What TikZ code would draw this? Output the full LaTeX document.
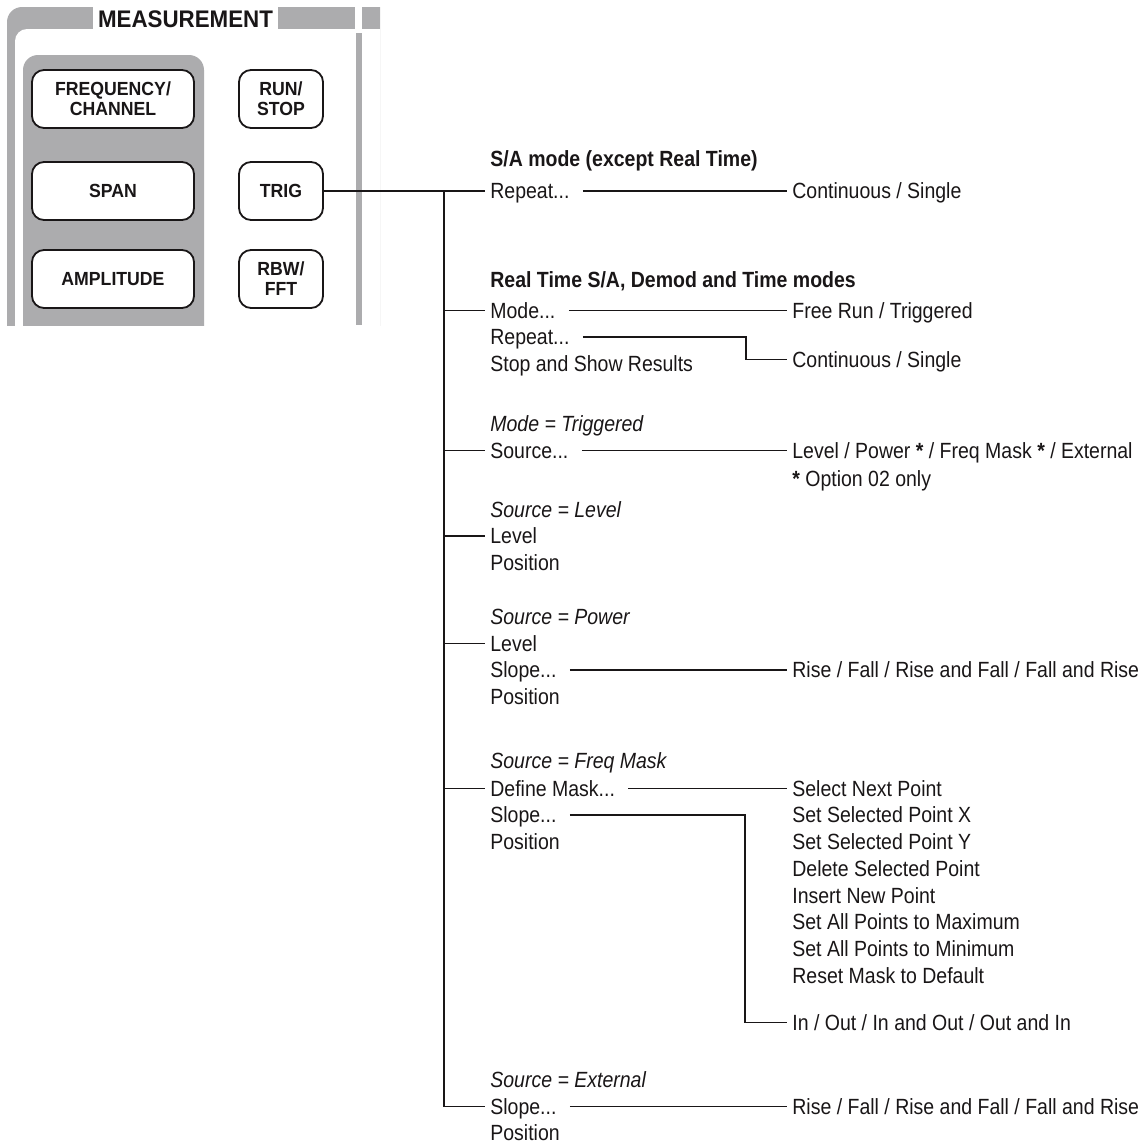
\documentclass[tikz,border=0pt]{standalone}
\usepackage{fontspec}
\setmainfont{Liberation Sans}[FakeStretch=0.886]
\newfontfamily\keyfont{Liberation Sans}[FakeStretch=0.93]
\usepackage{xcolor}
\usepackage{tikz}
\definecolor{keyG}{RGB}{172,172,174}
\definecolor{inkK}{RGB}{25,22,23}
\tikzset{
  keybtn/.style={draw=inkK, line width=0.9pt, fill=white, rounded corners=6pt, align=center,
    font=\keyfont\bfseries\fontsize{9.5}{10}\selectfont, text=inkK, inner sep=0pt, minimum height=29pt},
  item/.style={anchor=base west, inner xsep=2.5pt, inner ysep=0pt, text height=9.5pt, text depth=2pt,
    font=\fontsize{11}{13}\selectfont, text=inkK},
  head/.style={item, font=\bfseries\fontsize{11}{13}\selectfont},
  cond/.style={item, font=\itshape\fontsize{11}{13}\selectfont},
  wire/.style={draw=inkK, line width=0.65pt},
  link/.style={wire, shorten <=4pt}}

\begin{document}
\begin{tikzpicture}[x=0.5pt, y=-0.5pt]
\useasboundingbox (0,0) rectangle (1147,1146);
% ====== front panel: MEASUREMENT key group ======
\begin{scope}
\clip (0,0) rectangle (380,325);
\fill[keyG, rounded corners=7.5pt] (7,7) rectangle (420,400);
\fill[white, rounded corners=6pt] (15,29) rectangle (420,400);
\fill[white] (355,0) rectangle (362,33);
\fill[keyG] (356,33) rectangle (362,325);
\fill[keyG, rounded corners=7.5pt] (23,55) rectangle (204,400);
\end{scope}
\node[fill=white, font=\keyfont\bfseries\fontsize{12}{13}\selectfont, text=inkK,
  inner xsep=2.75pt, inner ysep=0pt, minimum height=13pt] (meas) at (185.5,19.5) {MEASUREMENT};
% --- keys ---
\node[keybtn, minimum width=81pt] (freq) at (113,99) {FREQUENCY/\\CHANNEL};
\node[keybtn, minimum width=81pt] (span) at (113,191) {SPAN};
\node[keybtn, minimum width=81pt] (ampl) at (113,279) {AMPLITUDE};
\node[keybtn, minimum width=42pt] (runstop) at (281,99) {RUN/\\STOP};
\node[keybtn, minimum width=42pt] (trig) at (281,191) {TRIG};
\node[keybtn, minimum width=42pt] (rbw) at (281,279) {RBW/\\FFT};
% ====== menu tree, first level ======
\node[head] (hsa) at (485,166) {S/A mode (except Real Time)};
\node[item] (rep1) at (485,198.5) {Repeat...};
\node[head] (hrt) at (485,287) {Real Time S/A, Demod and Time modes};
\node[item] (mode) at (485,318) {Mode...};
\node[item] (rep2) at (485,344.5) {Repeat...};
\node[item] (stop) at (485,371) {Stop and Show Results};
\node[cond] (ctrig) at (485,431) {Mode = Triggered};
\node[item] (src) at (485,458) {Source...};
\node[cond] (clev) at (485,517) {Source = Level};
\node[item] (lev1) at (485,543.5) {Level};
\node[item] (pos1) at (485,570) {Position};
\node[cond] (cpow) at (485,624) {Source = Power};
\node[item] (lev2) at (485,651) {Level};
\node[item] (slope1) at (485,677.5) {Slope...};
\node[item] (pos2) at (485,704) {Position};
\node[cond] (cmask) at (485,768.5) {Source = Freq Mask};
\node[item] (defmask) at (485,796) {Define Mask...};
\node[item] (slope2) at (485,822.5) {Slope...};
\node[item] (pos3) at (485,849) {Position};
\node[cond] (cext) at (485,1087) {Source = External};
\node[item] (slope3) at (485,1114) {Slope...};
\node[item] (pos4) at (485,1140.5) {Position};
% ====== second level ======
\node[item] (cont1) at (787,198.5) {Continuous / Single};
\node[item] (free) at (787,318) {Free Run / Triggered};
\node[item] (cont2) at (787,367) {Continuous / Single};
\node[item] (srclist) at (787,458) {Level / Power \textbf{*} / Freq Mask \textbf{*} / External};
\node[item] (opt) at (787,486.5) {\textbf{*} Option 02 only};
\node[item] (rise1) at (787,677.5) {Rise / Fall / Rise and Fall / Fall and Rise};
\foreach \txt [count=\i] in {Select Next Point, Set Selected Point X, Set Selected Point Y,
  Delete Selected Point, Insert New Point, Set All Points to Maximum,
  Set All Points to Minimum, Reset Mask to Default}
  \node[item] (mk\i) at (787,{796+(\i-1)*26.75}) {\txt};
\node[item] (inout) at (787,1030) {In / Out / In and Out / Out and In};
\node[item] (rise2) at (787,1114) {Rise / Fall / Rise and Fall / Fall and Rise};
% ====== connectors ======
\coordinate (trunk) at (444,191);
\draw[wire] (trig.east) -- (rep1.west);
\draw[wire] (trunk) |- (slope3.west);
\foreach \n in {mode,src,lev1,lev2,defmask}
  \draw[wire] (trunk |- \n.west) -- (\n.west);
\draw[link] (rep1.east) -- (cont1.west);
\draw[link] (mode.east) -- (free.west);
\draw[link] (src.east) -- (srclist.west);
\draw[link] (slope1.east) -- (rise1.west);
\draw[link] (defmask.east) -- (mk1.west);
\draw[link] (slope3.east) -- (rise2.west);
% --- elbows ---
\coordinate (kneeA) at (746,0);
\coordinate (kneeB) at (745,0);
\draw[link] (rep2.east) -| (kneeA |- cont2.west) -- (cont2.west);
\draw[link] (slope2.east) -| (kneeB |- inout.west) -- (inout.west);
\end{tikzpicture}
\end{document}
